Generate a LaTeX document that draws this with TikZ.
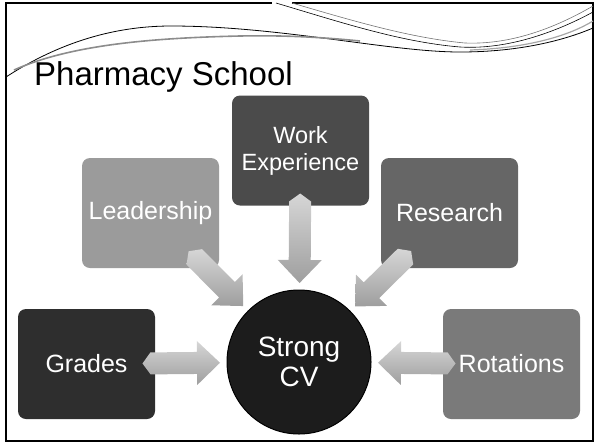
\documentclass[tikz,border=0pt]{standalone}
\usepackage{fontspec}
\setmainfont{Liberation Sans}
\usetikzlibrary{calc,shapes,positioning}
\usepackage{xcolor}

\definecolor{gradesgray}{HTML}{2E2E2E}
\definecolor{leadgray}{HTML}{9B9B9B}
\definecolor{workgray}{HTML}{4B4B4B}
\definecolor{researchgray}{HTML}{666666}
\definecolor{rotgray}{HTML}{7A7A7A}
\definecolor{cvblack}{HTML}{1C1C1C}

% block arrow from a box towards the CV circle
\newcommand{\cvarrow}[2]{%
  \coordinate (tail) at ($(#1.center)!#2!(cv.center)$);
  \coordinate (tip) at ($(cv.center)!79pt!(#1.center)$);
  \coordinate (nk) at ($(tail)!8pt!(tip)$);
  \coordinate (hb) at ($(tip)!23pt!(tail)$);
  \path[arrowfill] (tail) -- ($(nk)!11pt!90:(tip)$) -- ($(hb)!11pt!90:(tip)$)
    -- ($(hb)!22pt!90:(tip)$) -- (tip) -- ($(hb)!22pt!-90:(tip)$)
    -- ($(hb)!11pt!-90:(tip)$) -- ($(nk)!11pt!-90:(tip)$) -- cycle;
}

\begin{document}
\begin{tikzpicture}[x=1pt, y=-1pt,
    box/.style={rectangle, rounded corners=8pt, minimum width=137pt, minimum height=110pt,
      inner sep=0pt, text=white, align=center, font=\fontsize{25}{28}\selectfont},
    arrowfill/.style={top color=black!16, bottom color=black!38, draw=none}]
    \useasboundingbox (0,0) rectangle (596,445);

    % slide frame and waves
    \draw[line width=1.2pt] (6,3) rectangle (593,441);
    \draw[white, line width=2.5pt] (272,3) -- (292,3);
    \draw[line width=0.8pt] (6,77) .. controls (60,42) and (115,26) .. (171,26)
        .. controls (280,26) and (390,52) .. (460,52) .. controls (520,52) and (565,40) .. (593,28);
    \draw[black!45, line width=1.6pt] (14,70) .. controls (70,45) and (150,38) .. (240,36)
        .. controls (290,35) and (330,38) .. (360,41);
    \draw[line width=0.6pt] (276,3) .. controls (340,22) and (400,42) .. (460,47)
        .. controls (510,50) and (560,30) .. (593,12);
    \draw[black!55, line width=0.6pt] (292,3) .. controls (350,20) and (410,38) .. (465,43)
        .. controls (515,45) and (560,25) .. (593,6);
    \draw[black!35, line width=1.2pt] (470,50) .. controls (530,48) and (570,35) .. (593,21);

    % title
    \node[anchor=base west, inner sep=0pt, font=\fontsize{33}{36}\selectfont] (title) at (34,85) {Pharmacy School};

    % boxes
    \node[box, fill=gradesgray] (grades) at (86.5,364) {Grades};
    \node[box, fill=leadgray] (lead) at (150.5,213) {Leadership};
    \node[box, fill=workgray, font=\fontsize{23.5}{27}\selectfont] (work) at (300.5,150.5) {Work\\Experience};
    \node[box, fill=researchgray] (research) at (449.5,213) {Research};
    \node[box, fill=rotgray] (rot) at (511.5,364) {Rotations};

    % centre
    \node[circle, minimum size=144pt, inner sep=0pt, fill=cvblack, draw=black, line width=1pt,
      text=white, align=center, font=\fontsize{28}{30}\selectfont] (cv) at (299,362) {Strong\\CV};

    % arrows
    \cvarrow{grades}{56pt}
    \cvarrow{lead}{54pt}
    \cvarrow{work}{43pt}
    \cvarrow{research}{54pt}
    \cvarrow{rot}{56pt}
\end{tikzpicture}
\end{document}
